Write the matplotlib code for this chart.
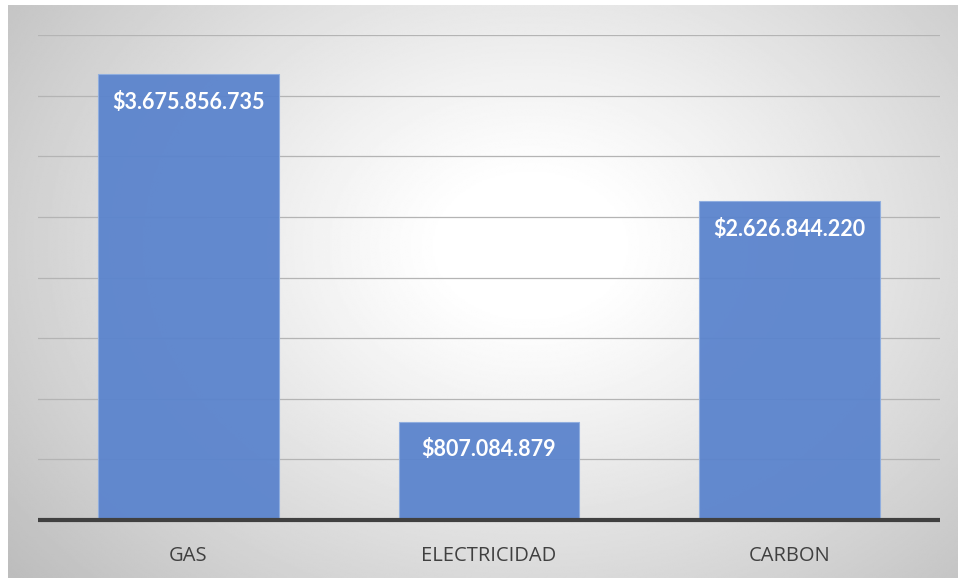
import numpy as np
import matplotlib
matplotlib.use("Agg")
import matplotlib.pyplot as plt

categories = ["GAS", "ELECTRICIDAD", "CARBON"]
values = [3675856735, 807084879, 2626844220]
labels = ["$3.675.856.735", "$807.084.879", "$2.626.844.220"]

W, H = 958, 578
fig = plt.figure(figsize=(W / 100, H / 100), dpi=100)
fig.patch.set_facecolor("white")

# radial grey background, white in the middle
bg = fig.add_axes([8 / W, 0, 1 - 8 / W, 1 - 5 / H])
bg.set_axis_off()
yy, xx = np.mgrid[0:1:400j, 0:1:600j]
d = np.sqrt(((xx - 0.55) / 0.75) ** 2 + ((yy - 0.42) / 0.95) ** 2)
shade = np.clip(1.0 - 0.32 * np.clip(d - 0.12, 0, None) ** 1.1, 0.74, 1.0)
bg.imshow(shade, cmap="gray", vmin=0, vmax=1, aspect="auto",
          extent=[0, 1, 1, 0], interpolation="bilinear")

ax = fig.add_axes([38 / W, (H - 520) / H, (940 - 38) / W, (520 - 35) / H])
ax.patch.set_alpha(0)

x = np.arange(len(categories))
ax.bar(x, values, width=0.6, color="#5B84CD", edgecolor="#8FAEE0",
       linewidth=0.8, alpha=0.95, zorder=2)

ax.set_xlim(-0.5, 2.5)
ax.set_ylim(0, 4e9)
ax.set_yticks(np.arange(0, 4e9 + 1, 5e8))
ax.yaxis.grid(True, color="#b4b4b4", linewidth=0.9, zorder=1)
ax.set_axisbelow(True)
ax.tick_params(axis="y", left=False, labelleft=False)
ax.tick_params(axis="x", bottom=False, pad=15, labelsize=14.5, labelcolor="#404040")
ax.set_xticks(x)
ax.set_xticklabels(categories, fontfamily="Open Sans")
for side in ["top", "right", "left"]:
    ax.spines[side].set_visible(False)
ax.spines["bottom"].set_color("#404040")
ax.spines["bottom"].set_linewidth(3)
ax.spines["bottom"].set_capstyle("butt")
ax.spines["bottom"].set_zorder(3)

for xi, v, lab in zip(x, values, labels):
    ax.annotate(lab, (xi, v), xytext=(0, -20), textcoords="offset points",
                ha="center", va="center", color="white", fontsize=15.5,
                fontweight="bold", fontfamily="Lato", zorder=4)

fig.savefig("out.png", dpi=100)
